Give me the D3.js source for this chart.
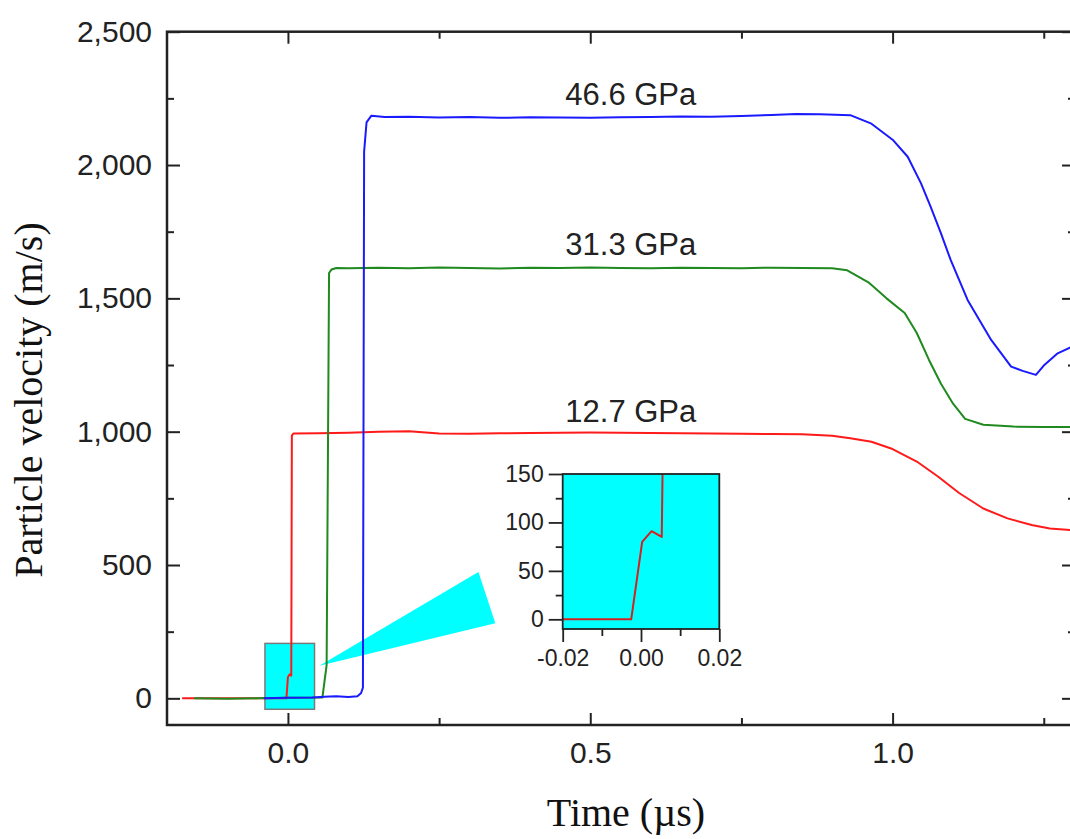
<!DOCTYPE html>
<html>
<head>
<meta charset="utf-8">
<script src="https://cdn.jsdelivr.net/npm/d3@7/dist/d3.min.js"></script>
<style>
  body { margin: 0; background: #fff; }
  svg { display: block; }
</style>
</head>
<body>
<svg></svg>
<script>
// traces: time (µs) and particle velocity (m/s)
var t127 = [-0.175, -0.1, -0.05, -0.0025, 0.0, 0.003, 0.0055, 0.0065, 0.009, 0.05, 0.1, 0.15, 0.2, 0.25, 0.3, 0.35, 0.4, 0.45, 0.5, 0.55, 0.6, 0.65, 0.7, 0.75, 0.8, 0.85, 0.9, 0.93, 0.965, 1.0, 1.04, 1.075, 1.11, 1.15, 1.19, 1.23, 1.26, 1.3];
var v127 = [0, 0, 0, 0, 80, 90, 85, 985, 993, 994, 996, 1000, 1002, 993, 992, 994, 995, 996, 997, 996, 995, 994, 993, 992, 991, 990, 985, 975, 962, 935, 888, 832, 770, 712, 675, 650, 637, 630];

var t313 = [-0.155, -0.1, -0.05, 0, 0.057, 0.064, 0.068, 0.072, 0.08, 0.1, 0.15, 0.2, 0.25, 0.3, 0.35, 0.4, 0.45, 0.5, 0.55, 0.6, 0.65, 0.7, 0.75, 0.8, 0.85, 0.9, 0.925, 0.96, 0.99, 1.02, 1.04, 1.06, 1.08, 1.1, 1.12, 1.15, 1.2, 1.25, 1.3];
var v313 = [0, -2, 0, 2, 3, 125, 1595, 1608, 1614, 1613, 1615, 1613, 1616, 1614, 1612, 1615, 1614, 1616, 1614, 1613, 1615, 1614, 1613, 1615, 1614, 1613, 1605, 1560, 1500, 1445, 1370, 1270, 1180, 1105, 1048, 1026, 1019, 1018, 1017];

var t466 = [-0.04, 0, 0.04, 0.06, 0.08, 0.1, 0.115, 0.121, 0.124, 0.126, 0.13, 0.138, 0.16, 0.2, 0.25, 0.3, 0.35, 0.4, 0.45, 0.5, 0.55, 0.6, 0.65, 0.7, 0.75, 0.8, 0.84, 0.88, 0.93, 0.965, 1.0, 1.025, 1.047, 1.063, 1.08, 1.096, 1.124, 1.163, 1.196, 1.215, 1.237, 1.25, 1.273, 1.3];
var v466 = [0, 2, 3, 6, 8, 5, 8, 20, 40, 2050, 2160, 2185, 2180, 2181, 2178, 2180, 2177, 2179, 2178, 2177, 2179, 2180, 2182, 2181, 2184, 2188, 2191, 2190, 2187, 2155, 2095, 2031, 1931, 1843, 1744, 1644, 1494, 1344, 1244, 1228, 1213, 1248, 1294, 1322];

// zoomed onset of the 12.7 GPa trace
var tZoom = [-0.02, -0.0025, 0.0003, 0.0027, 0.0053, 0.0055, 0.0065];
var vZoom = [0, 0, 80, 91, 85, 150, 985];

var seriesNames = ["12.7 GPa", "31.3 GPa", "46.6 GPa"];
var xTicks = [0, 0.5, 1.0];
var xMinor = [0.25, 0.75, 1.25];
var yTicks = [0, 500, 1000, 1500, 2000, 2500];
var yMinor = [250, 750, 1250, 1750, 2250];
var insetXTicks = [-0.02, 0, 0.02];
var insetXMinor = [-0.01, 0.01];
var insetYTicks = [0, 50, 100, 150];
var insetYMinor = [25, 75, 125];

var svgWidth = 1070, svgHeight = 839;
var svg = d3.select("svg")
  .attr("width", svgWidth)
  .attr("height", svgHeight);

var x = d3.scaleLinear().domain([-0.2, 1.3]).range([167, 1074]);
var y = d3.scaleLinear().domain([-100, 2500]).range([725, 31.7]);

var sans = "'Liberation Sans', Arial, sans-serif";
var serif = "'Liberation Serif', 'Times New Roman', serif";
var ink = "#222";

function zip(ts, vs) {
  return ts.map(function (t, i) { return { t: t, v: vs[i] }; });
}

// plain hyphen for negatives, like the original
function fmt(spec) {
  var f = d3.format(spec);
  return function (d) { return f(d).replace("\u2212", "-"); };
}

function styleAxis(g, size) {
  g.selectAll(".tick line").attr("stroke", ink).attr("stroke-width", 2);
  g.selectAll("text").attr("fill", ink).style("font-family", sans).style("font-size", size + "px");
  g.select(".domain").remove();
}

// cyan box marking the zoomed region, and the callout wedge
svg.append("rect")
  .attr("x", x(-0.038))
  .attr("y", y(206))
  .attr("width", x(0.044) - x(-0.038))
  .attr("height", y(-41) - y(206))
  .attr("fill", "#00ffff")
  .attr("stroke", "#7a7a7a")
  .attr("stroke-width", 1.5);

var wedge = [[0.052, 122], [0.315, 474], [0.343, 282]];
svg.append("path")
  .attr("d", "M" + wedge.map(function (p) { return x(p[0]) + "," + y(p[1]); }).join("L") + "Z")
  .attr("fill", "#00ffff");

// traces
var line = d3.line()
  .x(function (d) { return x(d.t); })
  .y(function (d) { return y(d.v); });

var traces = [
  { data: zip(t127, v127), color: "#ff1a1a" },
  { data: zip(t313, v313), color: "#1f8a1f" },
  { data: zip(t466, v466), color: "#1a1aff" }
];

svg.append("defs").append("clipPath").attr("id", "plotClip")
  .append("rect")
  .attr("x", x(-0.2)).attr("y", y(2500))
  .attr("width", x(1.3) - x(-0.2)).attr("height", y(-100) - y(2500));

svg.append("g").attr("clip-path", "url(#plotClip)")
  .selectAll("path")
  .data(traces)
  .enter()
  .append("path")
  .attr("fill", "none")
  .attr("stroke", function (d) { return d.color; })
  .attr("stroke-width", 2)
  .attr("stroke-linejoin", "round")
  .attr("d", function (d) { return line(d.data); });

// pressure labels
var labelPos = [[0.567, 1037], [0.567, 1662], [0.567, 2225]];
svg.selectAll(".gpa")
  .data(seriesNames)
  .enter()
  .append("text")
  .attr("class", "gpa")
  .attr("x", function (d, i) { return x(labelPos[i][0]); })
  .attr("y", function (d, i) { return y(labelPos[i][1]); })
  .attr("text-anchor", "middle")
  .attr("fill", ink)
  .style("font-family", sans)
  .style("font-size", "31px")
  .text(function (d) { return d; });

// frame
svg.append("rect")
  .attr("x", x(-0.2)).attr("y", y(2500))
  .attr("width", x(1.3) - x(-0.2)).attr("height", y(-100) - y(2500))
  .attr("fill", "none")
  .attr("stroke", ink)
  .attr("stroke-width", 2.5);

// axes, ticks pointing inward
svg.append("g")
  .attr("transform", "translate(0," + y(-100) + ")")
  .call(d3.axisBottom(x).tickValues(xTicks).tickSize(-12).tickSizeOuter(0).tickPadding(17).tickFormat(d3.format(".1f")))
  .call(styleAxis, 30);
svg.append("g")
  .attr("transform", "translate(0," + y(-100) + ")")
  .call(d3.axisBottom(x).tickValues(xMinor).tickSize(-7).tickSizeOuter(0).tickFormat(""))
  .call(styleAxis, 30);
svg.append("g")
  .attr("transform", "translate(0," + y(2500) + ")")
  .call(d3.axisTop(x).tickValues(xTicks).tickSize(-12).tickSizeOuter(0).tickFormat(""))
  .call(styleAxis, 30);
svg.append("g")
  .attr("transform", "translate(0," + y(2500) + ")")
  .call(d3.axisTop(x).tickValues(xMinor).tickSize(-7).tickSizeOuter(0).tickFormat(""))
  .call(styleAxis, 30);

svg.append("g")
  .attr("transform", "translate(" + x(-0.2) + ",0)")
  .call(d3.axisLeft(y).tickValues(yTicks).tickSize(-13).tickSizeOuter(0).tickPadding(15).tickFormat(d3.format(",")))
  .call(styleAxis, 30);
svg.append("g")
  .attr("transform", "translate(" + x(-0.2) + ",0)")
  .call(d3.axisLeft(y).tickValues(yMinor).tickSize(-7).tickSizeOuter(0).tickFormat(""))
  .call(styleAxis, 30);
svg.append("g")
  .attr("transform", "translate(" + x(1.3) + ",0)")
  .call(d3.axisRight(y).tickValues(yTicks).tickSize(-12).tickSizeOuter(0).tickFormat(""))
  .call(styleAxis, 30);
svg.append("g")
  .attr("transform", "translate(" + x(1.3) + ",0)")
  .call(d3.axisRight(y).tickValues(yMinor).tickSize(-6).tickSizeOuter(0).tickFormat(""))
  .call(styleAxis, 30);

// axis titles
svg.append("text")
  .attr("x", 626)
  .attr("y", 826)
  .attr("text-anchor", "middle")
  .attr("fill", "#111")
  .style("font-family", serif)
  .style("font-size", "40px")
  .text("Time (\u00b5s)");

svg.append("text")
  .attr("transform", "translate(42,400) rotate(-90)")
  .attr("text-anchor", "middle")
  .attr("fill", "#111")
  .style("font-family", serif)
  .style("font-size", "40px")
  .text("Particle velocity (m/s)");

// inset
var ix = d3.scaleLinear().domain([-0.02, 0.02]).range([562.7, 719.3]);
var iy = d3.scaleLinear().domain([-10, 150]).range([629, 474]);
var inset = svg.append("g");

inset.append("rect")
  .attr("x", ix(-0.02)).attr("y", iy(150))
  .attr("width", ix(0.02) - ix(-0.02)).attr("height", iy(-10) - iy(150))
  .attr("fill", "#00ffff");

inset.append("clipPath").attr("id", "insetClip")
  .append("rect")
  .attr("x", ix(-0.02)).attr("y", iy(150))
  .attr("width", ix(0.02) - ix(-0.02)).attr("height", iy(-10) - iy(150));

var iline = d3.line()
  .x(function (d) { return ix(d.t); })
  .y(function (d) { return iy(d.v); });

inset.append("path")
  .datum(zip(tZoom, vZoom))
  .attr("clip-path", "url(#insetClip)")
  .attr("fill", "none")
  .attr("stroke", "#d42020")
  .attr("stroke-width", 2)
  .attr("stroke-linejoin", "round")
  .attr("d", iline);

inset.append("rect")
  .attr("x", ix(-0.02)).attr("y", iy(150))
  .attr("width", ix(0.02) - ix(-0.02)).attr("height", iy(-10) - iy(150))
  .attr("fill", "none")
  .attr("stroke", ink)
  .attr("stroke-width", 1.8);

inset.append("g")
  .attr("transform", "translate(0," + iy(-10) + ")")
  .call(d3.axisBottom(ix).tickValues(insetXTicks).tickSize(13).tickSizeOuter(0).tickPadding(8).tickFormat(fmt(".2f")))
  .call(styleAxis, 23);
inset.append("g")
  .attr("transform", "translate(0," + iy(-10) + ")")
  .call(d3.axisBottom(ix).tickValues(insetXMinor).tickSize(7).tickSizeOuter(0).tickFormat(""))
  .call(styleAxis, 23);
inset.append("g")
  .attr("transform", "translate(" + ix(-0.02) + ",0)")
  .call(d3.axisLeft(iy).tickValues(insetYTicks).tickSize(14).tickSizeOuter(0).tickPadding(5))
  .call(styleAxis, 23);
inset.append("g")
  .attr("transform", "translate(" + ix(-0.02) + ",0)")
  .call(d3.axisLeft(iy).tickValues(insetYMinor).tickSize(7).tickSizeOuter(0).tickFormat(""))
  .call(styleAxis, 23);

inset.selectAll(".tick line").attr("stroke-width", 1.8);
</script>
</body>
</html>
